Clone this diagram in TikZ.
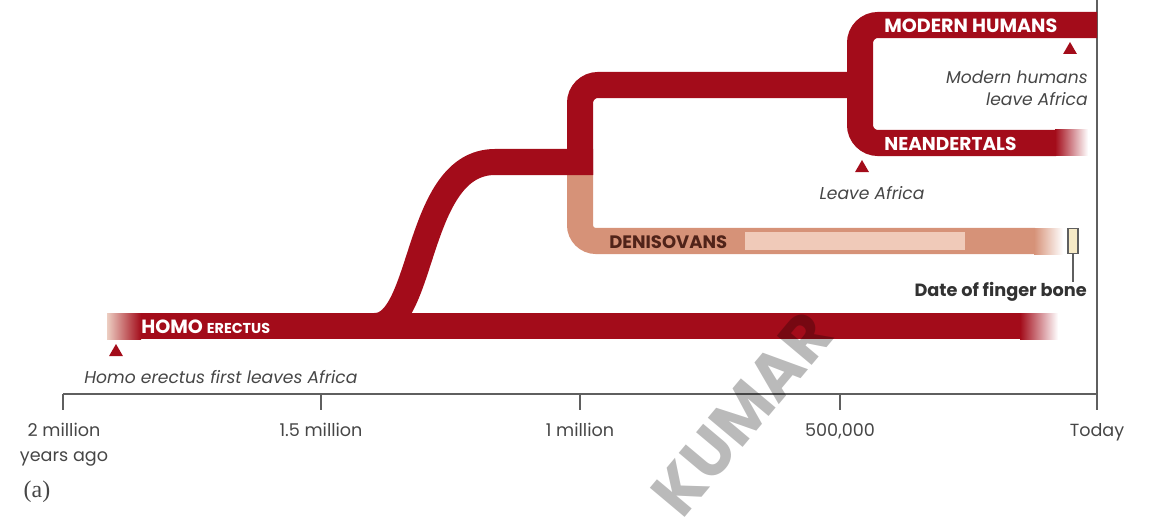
\documentclass[tikz,border=0pt]{standalone}
\usepackage{fontspec}
\setmainfont{Poppins}
\newfontfamily\capfont{Liberation Serif}
\usetikzlibrary{shapes.geometric}
\definecolor{branch}{RGB}{163,12,26}
\definecolor{deni}{RGB}{214,146,120}
\definecolor{denilight}{RGB}{240,202,185}
\definecolor{bonefill}{RGB}{246,234,198}
\definecolor{notegray}{RGB}{70,70,70}
\definecolor{axisgray}{RGB}{95,95,95}
\begin{document}
\begin{tikzpicture}[x=0.025cm,y=-0.025cm,every node/.style={font=\fontsize{12.5}{17.5}\selectfont,inner sep=0pt},
  bar/.style={line width=0.65cm,branch},
  namelbl/.style={font=\bfseries\fontsize{13.6}{15}\selectfont,text=white,anchor=west},
  note/.style={font=\itshape\fontsize{12.2}{15.5}\selectfont,text=notegray},
  arrowmark/.style={regular polygon,regular polygon sides=3,fill=branch,minimum size=0.4cm,inner sep=0pt}]
\useasboundingbox (0,0) rectangle (1149,518);
% Family tree of Homo along a time axis
\draw[axisgray,line width=0.05cm] (1097,0) -- (1097,410);
\draw[axisgray,line width=0.05cm] (63,394) -- (1097,394);
\foreach \x in {63,321,580,840,1097} \draw[axisgray,line width=0.05cm] (\x,394) -- (\x,410);
\foreach \x/\t [count=\i] in {64/{2 million\\years ago},321/{1.5 million},580/{1 million},840/{500,000},1097/{Today}}
  \node[anchor=north,align=center,text=notegray] (tick\i) at (\x,423) {\t};
\node[font=\capfont\fontsize{17}{19}\selectfont,text=notegray] (panel) at (37,492) {(a)};
% Denisovan branch
\draw[line width=0.65cm,deni,rounded corners=0.4cm] (580,170) -- (580,241) -- (1035,241);
\fill[denilight] (745,232) rectangle (965,250);
\shade[left color=deni,right color=white] (1034,228) rectangle (1063,254);
% red branches
\draw[bar] (140,326) -- (1021,326);
\shade[left color=deni!45,right color=branch] (107,313) rectangle (141,339);
\shade[left color=branch,right color=white] (1020,313) rectangle (1058,339);
\draw[bar] (375,326) .. controls (425,326) and (415,162) .. (495,162) -- (593,162);
\draw[bar,rounded corners=0.45cm] (580,175) -- (580,85) -- (862,85);
\draw[bar,rounded corners=0.45cm] (1097,25) -- (860,25) -- (860,143) -- (1056,143);
\shade[left color=branch,right color=white] (1055,130) rectangle (1088,156);
% labels on the branches
\node[namelbl] (modern) at (884,26) {MODERN HUMANS};
\node[namelbl,font=\bfseries\fontsize{13.2}{15}\selectfont] (neander) at (884,144) {NEANDERTALS};
\node[namelbl,font=\bfseries\fontsize{12.8}{15}\selectfont,text={rgb,255:red,80;green,35;blue,25}] (deniso) at (609,242) {DENISOVANS};
\node[namelbl] (erectus) at (141,327) {HOMO {\fontsize{10.2}{12}\selectfont ERECTUS}};
% leaving Africa
\node[arrowmark] (trimod) at (1070,50) {};
\node[arrowmark] (trinea) at (862,168) {};
\node[arrowmark] (triere) at (116,352) {};
\node[note,align=right,anchor=east] (modnote) at (1088,88) {Modern humans\\leave Africa};
\node[note] (neanote) at (872,193) {Leave Africa};
\node[note,anchor=west] (erenote) at (84,377) {Homo erectus first leaves Africa};
% finger bone
\node[draw=axisgray,fill=bonefill,line width=0.03cm,minimum width=0.25cm,minimum height=0.62cm] (bone) at (1073,241) {};
\node[font=\bfseries\fontsize{12.6}{14}\selectfont,text={rgb,255:red,50;green,50;blue,50},anchor=east] (bonenote) at (1087,292) {Date of finger bone};
\draw[axisgray,line width=0.03cm] (bone.south) -- (bone.south |- bonenote.north);
% watermark
\node[font=\bfseries\fontsize{46}{46}\selectfont,text=black,opacity=0.27,rotate=50] (mark) at (742,414) {KUMAR};
\end{tikzpicture}
\end{document}
